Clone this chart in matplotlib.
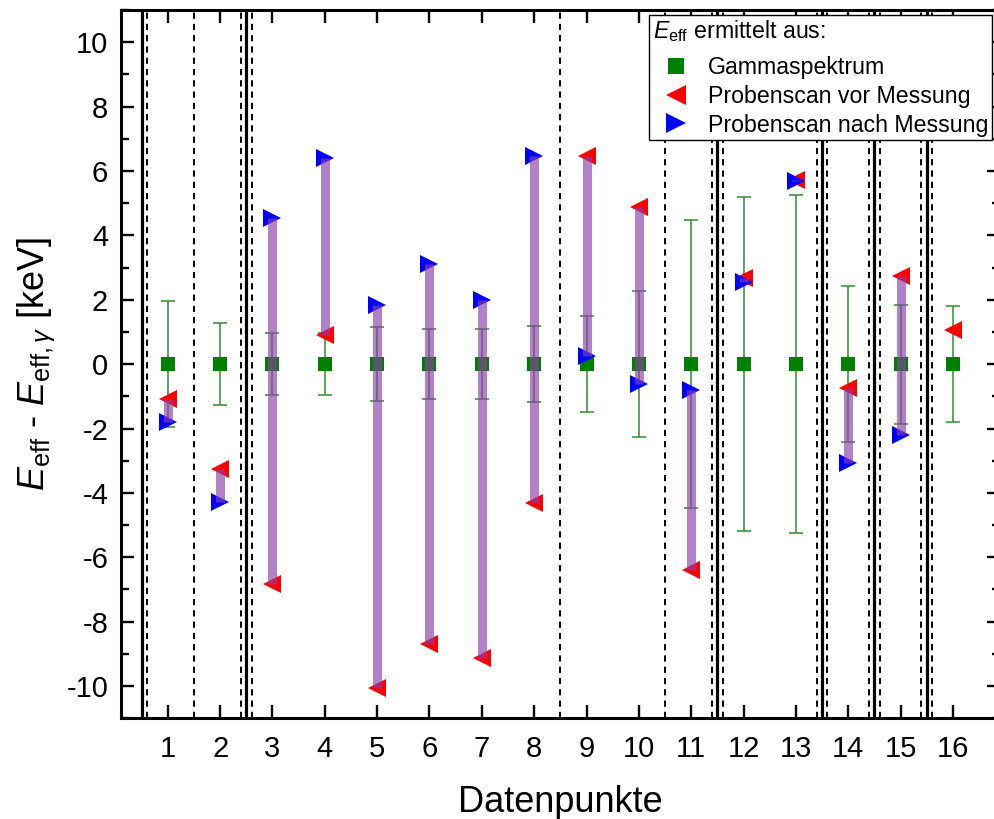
import matplotlib
matplotlib.use("Agg")
import matplotlib.pyplot as plt
from matplotlib.ticker import MultipleLocator, FixedLocator
from matplotlib.lines import Line2D
import numpy as np

plt.rcParams['font.family'] = ['Liberation Sans', 'DejaVu Sans']
plt.rcParams['mathtext.fontset'] = 'custom'
plt.rcParams['mathtext.rm'] = 'Liberation Sans'
plt.rcParams['mathtext.it'] = 'Liberation Sans:italic'
plt.rcParams['mathtext.bf'] = 'Liberation Sans:bold'
plt.rcParams['axes.unicode_minus'] = False

# ---- data ----
datenpunkte = list(range(1, 17))
tick_labels = [str(i) for i in datenpunkte]
gamma_values = [0.0] * 16
gamma_errors = [1.95, 1.27, 0.96, 0.96, 1.16, 1.09, 1.08, 1.17,
                1.50, 2.26, 4.47, 5.19, 5.25, 2.42, 1.85, 1.79]
scan_vor = [-1.08, -3.27, -6.84, 0.89, -10.05, -8.70, -9.14, -4.32,
            6.46, 4.89, -6.39, 2.68, 5.72, -0.74, 2.73, 1.07]
scan_nach = [-1.81, -4.27, 4.55, 6.39, 1.85, 3.10, 2.00, 6.46,
             0.26, -0.61, -0.79, 2.55, 5.70, -3.07, -2.19, np.nan]
group_lines_solid = [0.5, 2.5, 11.5, 13.5, 14.5, 15.5]
group_lines_dashed = [0.6, 1.5, 2.4, 2.6, 8.5, 10.5, 11.4, 11.6,
                      13.4, 13.6, 14.4, 14.6, 15.4, 15.6]

fig = plt.figure(figsize=(9.95, 8.19), dpi=100)
ax = fig.add_axes([0.1213, 0.1230, 0.8837, 0.8648])

# separators
for xv in group_lines_solid:
    ax.axvline(xv, color='black', lw=2.3, zorder=1)
for xv in group_lines_dashed:
    ax.axvline(xv, color='black', lw=1.4, linestyle=(0, (3.2, 2.6)), zorder=1)

x = np.array(datenpunkte, dtype=float)
vor = np.array(scan_vor)
nach = np.array(scan_nach)

# gamma spectrum with error bars
ax.errorbar(x, gamma_values, yerr=gamma_errors, fmt='none', ecolor='#2f8f2f',
            elinewidth=1.1, capsize=4.8, capthick=1.1, zorder=2)
ax.plot(x, gamma_values, 's', color='#008000', markersize=10.5,
        markeredgewidth=0, zorder=2.5)

# triangles
ax.plot(x, vor, '<', color='#ff0000', markersize=13.5, markeredgewidth=0, zorder=3)
ax.plot(x, nach, '>', color='#0000ff', markersize=13.5, markeredgewidth=0, zorder=3)

# connecting bars
mask = ~np.isnan(nach)
ax.vlines(x[mask], vor[mask], nach[mask], color='#8b3fa8', alpha=0.65,
          lw=6.5, zorder=4)

ax.set_xlim(0.1, 16.9)
ax.set_ylim(-11, 11)
ax.xaxis.set_major_locator(FixedLocator(datenpunkte))
ax.set_xticklabels(tick_labels)
ax.yaxis.set_major_locator(MultipleLocator(2))
ax.yaxis.set_minor_locator(MultipleLocator(1))

ax.tick_params(which='both', direction='in', top=True, right=True, width=1.7)
ax.tick_params(which='major', length=9.5, labelsize=21)
ax.tick_params(which='minor', length=5.5)
ax.tick_params(axis='x', which='major', pad=12)
ax.tick_params(axis='y', which='major', pad=9)
ax.tick_params(axis='x', which='minor', top=False, bottom=False)
for sp in ax.spines.values():
    sp.set_linewidth(2.2)

ax.set_xlabel('Datenpunkte', fontsize=26, labelpad=16)
ax.set_ylabel(r'$E_{\mathrm{eff}}$ - $E_{\mathrm{eff},\gamma}$ [keV]', fontsize=26, labelpad=6)

handles = [
    Line2D([], [], linestyle='none', marker='s', color='#008000', markersize=12, markeredgewidth=0),
    Line2D([], [], linestyle='none', marker='<', color='#ff0000', markersize=14, markeredgewidth=0),
    Line2D([], [], linestyle='none', marker='>', color='#0000ff', markersize=14, markeredgewidth=0),
]
labels = ['Gammaspektrum', 'Probenscan vor Messung', 'Probenscan nach Messung']
leg = ax.legend(handles, labels, title=r'$E_{\mathrm{eff}}$ ermittelt aus:',
                loc='upper right', bbox_to_anchor=(0.991, 0.993), borderaxespad=0,
                fontsize=16.7, title_fontsize=16.7, alignment='left',
                frameon=True, fancybox=False, edgecolor='black', framealpha=1,
                borderpad=0.15, handlelength=2.0, handletextpad=0.4,
                labelspacing=0.25)
leg._legend_box.sep = 16.7 * 0.5
leg.get_frame().set_linewidth(1.0)
leg.set_zorder(10)

fig.savefig('out.png', dpi=100)
